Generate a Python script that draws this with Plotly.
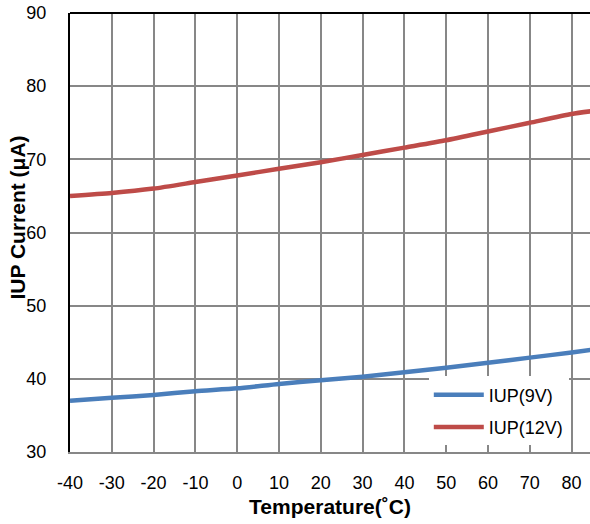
import plotly.graph_objects as go

temperature = [-40, -30, -20, -10, 0, 10, 20, 30, 40, 50, 60, 70, 80, 85]
iup_9v = [37.0, 37.4, 37.8, 38.3, 38.7, 39.3, 39.8, 40.3, 40.9, 41.5, 42.2, 42.9, 43.6, 44.0]
iup_12v = [65.0, 65.4, 66.0, 66.9, 67.8, 68.7, 69.6, 70.6, 71.6, 72.6, 73.8, 75.0, 76.2, 76.6]
x_ticks = [-40, -30, -20, -10, 0, 10, 20, 30, 40, 50, 60, 70, 80]
x_tick_labels = ["-40", "-30", "-20", "-10", "0", "10", "20", "30", "40", "50", "60", "70", "80"]
y_ticks = [30, 40, 50, 60, 70, 80, 90]

tick_font = dict(family="Liberation Sans, Arial, sans-serif", size=18, color="#000000")
title_font = dict(family="Liberation Sans, Arial, sans-serif", size=21, color="#000000")

fig = go.Figure()
fig.add_trace(go.Scatter(x=temperature, y=iup_9v, mode="lines", name="IUP(9V)",
                         line=dict(color="#4a7ebb", width=4.5, shape="spline", smoothing=0.6),
                         legendgroup="a"))
fig.add_trace(go.Scatter(x=temperature, y=iup_12v, mode="lines", name="IUP(12V)",
                         line=dict(color="#be4b48", width=4.5, shape="spline", smoothing=0.6),
                         legendgroup="b"))

fig.update_layout(
    width=590, height=524,
    margin=dict(l=70, r=0, t=13, b=72),
    paper_bgcolor="white", plot_bgcolor="white",
    showlegend=True,
    legend=dict(x=0.69, y=0.172, xanchor="left", yanchor="top",
                bgcolor="white", font=tick_font, tracegroupgap=6,
                itemwidth=50),
    xaxis=dict(range=[-40, 84.4], tickvals=x_ticks, ticktext=x_tick_labels, showgrid=True,
               gridcolor="#878787", gridwidth=1.5,
               showline=True, linecolor="#878787", linewidth=1.5,
               ticks="outside", ticklen=0, ticklabelstandoff=14,
               tickfont=tick_font, zeroline=False, automargin=False,
               title=dict(text="<b>Temperature(˚C)</b>", font=title_font, standoff=7)),
    yaxis=dict(range=[30, 90], tickvals=y_ticks, showgrid=True,
               gridcolor="#878787", gridwidth=1.5,
               showline=True, linecolor="#000000", linewidth=2,
               ticks="outside", ticklen=0, ticklabelstandoff=18,
               tickfont=tick_font, zeroline=False, automargin=False),
    annotations=[dict(text="<b>IUP Current (μA)</b>", font=title_font, textangle=-90,
                      xref="paper", yref="paper", x=-0.1, y=0.534,
                      xanchor="center", yanchor="middle", showarrow=False)],
    shapes=[dict(type="line", xref="paper", yref="paper", x0=0, x1=1, y0=1, y1=1,
                 line=dict(color="#000000", width=2))],
)

fig.write_html("out.html", config={"displayModeBar": False},
               post_script="document.body.style.margin='0';document.body.style.overflow='hidden';")
